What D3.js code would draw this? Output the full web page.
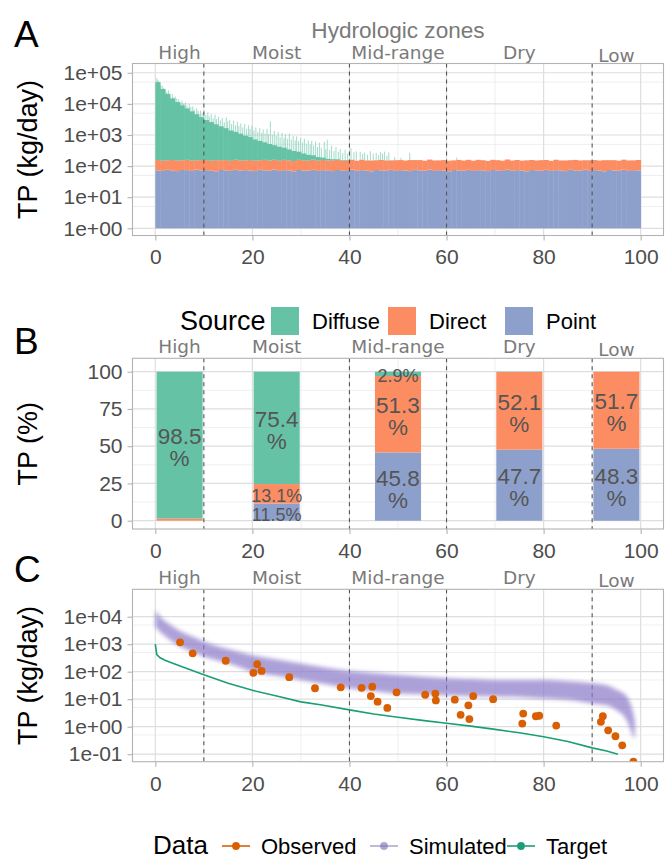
<!DOCTYPE html>
<html><head><meta charset="utf-8">
<script src="https://cdn.jsdelivr.net/npm/d3@7"></script>
<style>body{margin:0;background:#fff}</style>
</head><body><svg id="c" width="665" height="860"></svg>
<script>
// ---------- shared categories ----------
const zoneNames = ["High","Moist","Mid-range","Dry","Low"];
const zoneCenters = [5,25,50,75,95];
const zoneBreaks = [10,40,60,90];
const xTicks = [0,20,40,60,80,100];
const xMinor = [10,30,50,70,90];
const sources = ["Diffuse","Direct","Point"];
const sourceColors = ["#66c2a5","#fc8d62","#8da0cb"];

// ---------- Panel A: daily loads by flow percentile (bin = index) ----------
const pointLoad = [73,70,76,71,69,75,74,70,77,72,74,71,68,75,73,70,76,71,74,72,69,76,73,71,77,70,74,72,68,75,72,71,76,70,74,73,69,75,73,70,77,71,74,72,68,75,73,71,76,70,74,72,69,76,73,71,77,70,74,72,68,75,72,71,76,70,74,73,69,75,73,70,77,71,74,72,68,75,73,71,76,70,74,72,69,76,73,71,77,70,74,72,68,75,72,71,76,70,74,73];
const directLoad = [84,80,78,86,83,79,85,81,77,84,82,79,87,80,83,78,85,82,79,84,81,78,86,80,83,79,85,81,78,84,82,79,86,80,83,78,85,82,79,84,81,78,86,80,83,79,85,81,77,84,82,79,87,80,83,78,85,82,79,84,81,78,86,80,83,79,85,81,78,84,82,79,86,80,83,78,85,82,79,84,81,78,86,80,83,79,85,81,77,84,82,79,87,80,83,78,85,82,79,84];
const diffuseLoad = [49800,29800,20800,14800,11300,8800,7000,5600,4500,3600,2850,2450,2050,1750,1500,1250,1100,950,800,700,570,490,420,360,310,270,230,190,160,130,100,80,60,45,30,20,12,8,5,3,2];
const spikeX = [0.2,0.6,1.3,1.9,2.6,3.4,4.0,4.7,5.4,6.1,6.9,7.6,8.4,9.2,9.9,10.7,11.4,12.2,12.9,13.7,14.5,15.2,16.0,16.8,17.5,18.3,19.1,19.8,20.6,21.4,22.1,22.9,23.6,24.4,25.2,26.0,26.7,27.5,28.3,29.0,29.8,30.6,31.4,32.1,32.9,33.7,34.7,35.3,36.2,37.1,38.0,39.0,40.2,41.3,42.1,43.0,44.2,45.4,46.3,47.1,48.0,52.3,62.0,
  0.4,1.0,1.6,2.2,2.9,3.7,4.3,5.1,5.7,6.4,7.2,7.9,8.7,9.5,10.3,11.0,11.8,12.5,13.3,14.1,14.8,15.6,16.4,17.1,17.9,18.7,19.4,20.2,21.0,21.8,22.5,23.2,24.0,24.8,25.6,26.4,27.1,27.9,28.7,29.4,30.2,31.0,31.8,32.5,33.3,34.1,35.0,35.8,36.7,37.6,38.5,39.5,40.8,42.6,43.6,44.8,45.9,46.7,47.6,49.2,50.5];
const spikeLoad = [66000,52000,38000,30000,27000,20000,17000,14000,12500,11000,9500,8200,7000,6000,6300,5200,4600,4300,3700,3400,3500,2900,2700,2500,2200,2100,1900,1800,1600,1500,1350,1400,2600,1200,1100,1000,880,950,800,750,650,600,520,480,450,420,450,550,300,250,200,180,220,150,130,120,150,110,130,140,120,110,30,
  58000,40000,33000,24000,21000,16000,14500,11000,10000,8800,7800,6500,5800,4800,4200,3800,3300,3100,2800,2400,2600,2100,1900,1800,1600,1450,1400,1250,1100,1000,950,900,850,800,700,650,600,560,520,480,420,380,340,300,260,230,200,180,150,130,110,100,120,90,80,100,70,90,60,40,30];
const yTicksA = [1,10,100,1000,10000,100000];
const yMinorA = [5,50,500,5000,50000];

// ---------- Panel B: share of load by zone (%) ----------
const pctDiffuse = [98.5,75.4,2.9,0.2,0];
const pctDirect  = [1.5,13.1,51.3,52.1,51.7];
const pctPoint   = [0,11.5,45.8,47.7,48.3];
const yTicksB = [0,25,50,75,100];
const yMinorB = [12.5,37.5,62.5,87.5];

// ---------- Panel C: load duration curve ----------
const simX  = [0,1,2,4,6,8,10,13,16,20,25,30,34,40,45,50,55,60,65,70,75,80,85,90,93,95,96.5,97.5,98.3,98.8];
const simHi = [17000,10000,7000,4000,2500,1800,1250,830,600,400,280,200,150,105,90,76,66,58,54,50,50,50,45,38,32,22,16,10,4,1.6];
const simLo = [4400,2800,2000,1100,700,500,355,250,180,100,71,50,38,25,20,16,15,14,13,12.6,12,10.7,9.5,7,6,4,2.5,1.25,0.5,0.35];
const obsX = [5.1,7.7,14.5,20.2,21.0,21.9,27.6,32.9,38.2,42.5,44.4,44.7,45.8,47.8,49.7,55.6,57.7,57.8,61.7,62.9,64.5,64.7,65.5,69.6,75.6,75.8,78.4,79.1,82.6,91.8,92.2,93.3,94.8,96.2,98.5];
const obsY = [1170,465,250,91,187,107,63,25,27,26,13,28.5,8.1,4.8,17.8,14.5,16,9,9.6,2.7,6,1.9,13,10,1.3,3.0,2.4,2.5,1.1,1.5,2.4,0.74,0.45,0.21,0.054];
const targetX = [0,0.3,1,2,4,6.5,10,15,20,25,30,34,40,45,50,55,60,65,70,75,80,85,90,93,95.3];
const targetY = [1000,420,320,260,190,130,78,38,21,13,8,6.3,4.1,2.9,2.2,1.7,1.33,1.05,0.8,0.6,0.43,0.29,0.17,0.13,0.1];
const yTicksC = [0.1,1,10,100,1000,10000];
const yMinorC = [0.5,5,50,500,5000];
const legendC = ["Observed","Simulated","Target"];
const legendCColors = ["#d95f02","#7570b3","#1b9e77"];

// ---------- drawing ----------
const svg = d3.select("#c");
const SANS = "'Liberation Sans', Arial, sans-serif";
const DV = "'DejaVu Sans', sans-serif";
const L = 132.5, R = 663.5;
const x = d3.scaleLinear().domain([-4.7,104.7]).range([L,R]);
const defs = svg.append("defs");
defs.append("filter").attr("id","blur").attr("x","-10%").attr("y","-10%").attr("width","120%").attr("height","120%")
  .append("feGaussianBlur").attr("stdDeviation",2.2);

function logLab(d){const e=Math.round(Math.log10(d));return "1e"+(e<0?"-":"+")+String(Math.abs(e)).padStart(2,"0");}

function panel(id, top, bottom, y, yTicks, yMinor, fmt, yTitle){
  const g = svg.append("g");
  defs.append("clipPath").attr("id","clip"+id).append("rect")
    .attr("x",L).attr("y",top).attr("width",R-L).attr("height",bottom-top);
  g.selectAll(".ymin").data(yMinor).join("line")
    .attr("x1",L).attr("x2",R).attr("y1",d=>y(d)).attr("y2",d=>y(d))
    .attr("stroke","#ebebeb").attr("stroke-width",0.8);
  g.selectAll(".xmin").data(xMinor).join("line")
    .attr("y1",top).attr("y2",bottom).attr("x1",d=>x(d)).attr("x2",d=>x(d))
    .attr("stroke","#ebebeb").attr("stroke-width",0.8);
  g.selectAll(".ymaj").data(yTicks).join("line")
    .attr("x1",L).attr("x2",R).attr("y1",d=>y(d)).attr("y2",d=>y(d))
    .attr("stroke","#dedede").attr("stroke-width",1.2);
  g.selectAll(".xmaj").data(xTicks).join("line")
    .attr("y1",top).attr("y2",bottom).attr("x1",d=>x(d)).attr("x2",d=>x(d))
    .attr("stroke","#dedede").attr("stroke-width",1.2);
  const plot = svg.append("g").attr("clip-path","url(#clip"+id+")");
  const over = svg.append("g");
  const ay = svg.append("g").attr("transform",`translate(${L},0)`)
    .call(d3.axisLeft(y).tickValues(yTicks).tickFormat(fmt).tickSize(5).tickPadding(5));
  const ax = svg.append("g").attr("transform",`translate(0,${bottom})`)
    .call(d3.axisBottom(x).tickValues(xTicks).tickSize(5).tickPadding(9));
  [ay,ax].forEach(a=>{
    a.select(".domain").remove();
    a.selectAll(".tick line").attr("stroke","#b3b3b3").attr("stroke-width",1.1);
    a.selectAll(".tick text").attr("fill","#4d4d4d").style("font-family",SANS).style("font-size","21px");
  });
  svg.selectAll(".zl"+id).data(zoneNames).join("text")
    .attr("x",(d,i)=>x(zoneCenters[i])).attr("y",(d,i)=>top-5+(d==="Low"?3:0))
    .attr("text-anchor","middle").attr("fill","#7a7a7a")
    .style("font-family",DV).style("font-size","18.5px").text(d=>d);
  svg.append("text").attr("transform",`translate(37,${(top+bottom)/2}) rotate(-90)`)
    .attr("text-anchor","middle").style("font-family",SANS).style("font-size","27px").attr("fill","#000").text(yTitle);
  return {g, plot, over, top, bottom, border(){
    svg.append("rect").attr("x",L).attr("y",top).attr("width",R-L).attr("height",bottom-top)
      .attr("fill","none").attr("stroke","#b3b3b3").attr("stroke-width",1.1);
  }};
}
function zoneLines(p){
  p.over.selectAll("line.z").data(zoneBreaks).join("line").attr("class","z")
    .attr("x1",d=>x(d)).attr("x2",d=>x(d)).attr("y1",p.top).attr("y2",p.bottom)
    .attr("stroke","#555").attr("stroke-width",1.1).attr("stroke-dasharray","4,4");
}
function letter(s,yb){svg.append("text").attr("x",14).attr("y",yb).style("font-family",SANS).style("font-size","37px").attr("fill","#000").text(s);}

// ===== Panel A =====
const yA = d3.scaleLog().domain([Math.pow(10,-0.231),Math.pow(10,5.298)]).range([235.5,63.5]);
const pA = panel("A",63.5,235.5,yA,yTicksA,yMinorA,logLab,"TP (kg/day)");
const bw = x(1)-x(0);
pA.plot.selectAll("rect.pt").data(pointLoad).join("rect")
  .attr("x",(d,i)=>x(i)).attr("width",bw+0.4).attr("y",d=>yA(d)).attr("height",d=>yA(1)-yA(d)).attr("fill",sourceColors[2]);
pA.plot.selectAll("rect.dr").data(directLoad).join("rect")
  .attr("x",(d,i)=>x(i)).attr("width",bw+0.4).attr("y",(d,i)=>yA(d+pointLoad[i])).attr("height",(d,i)=>yA(pointLoad[i])-yA(d+pointLoad[i])).attr("fill",sourceColors[1]);
pA.plot.selectAll("rect.sp").data(spikeX).join("rect")
  .attr("x",d=>x(d)).attr("width",1.1)
  .attr("y",(d,i)=>{const k=Math.floor(d);return yA(pointLoad[k]+directLoad[k]+spikeLoad[i]);})
  .attr("height",(d,i)=>{const k=Math.floor(d);const b=pointLoad[k]+directLoad[k];return yA(b)-yA(b+spikeLoad[i]);})
  .attr("fill",sourceColors[0]).attr("opacity",0.55);
pA.plot.selectAll("rect.df").data(diffuseLoad).join("rect")
  .attr("x",(d,i)=>x(i)).attr("width",bw+0.4)
  .attr("y",(d,i)=>yA(pointLoad[i]+directLoad[i]+d))
  .attr("height",(d,i)=>yA(pointLoad[i]+directLoad[i])-yA(pointLoad[i]+directLoad[i]+d))
  .attr("fill",sourceColors[0]);
zoneLines(pA); pA.border();
svg.append("text").attr("x",x(50)).attr("y",37.5).attr("text-anchor","middle").attr("fill","#7a7a7a")
  .style("font-family",SANS).style("font-size","22.6px").text("Hydrologic zones");
letter("A",46.7);

// ===== Panel B =====
const yB = d3.scaleLinear().domain([-5.57,109]).range([529,358.3]);
const pB = panel("B",358.3,529,yB,yTicksB,yMinorB,d=>d,"TP (%)");
const stackRows = zoneNames.map((z,i)=>({zone:z,Point:pctPoint[i],Direct:pctDirect[i],Diffuse:pctDiffuse[i],c:zoneCenters[i]}));
const stack = d3.stack().keys(["Point","Direct","Diffuse"])(stackRows);
const colorOf = {Diffuse:sourceColors[0],Direct:sourceColors[1],Point:sourceColors[2]};
const bwB = x(9.5)-x(0);
stack.forEach(s=>{
  pB.plot.selectAll("rect.b"+s.key).data(s).join("rect")
    .attr("x",d=>x(d.data.c)-bwB/2).attr("width",bwB)
    .attr("y",d=>yB(d[1])).attr("height",d=>yB(d[0])-yB(d[1])).attr("fill",colorOf[s.key]);
});
zoneLines(pB);
stack.forEach(s=>{
  s.forEach(d=>{
    const v = d.data[s.key]; if(v<2.5) return;
    const cy = yB((d[0]+d[1])/2)+2, cx = x(d.data.c);
    const mk = ()=>svg.append("text").attr("x",cx).attr("text-anchor","middle").attr("fill","#555").style("font-family",SANS);
    if(v>=30){
      mk().style("font-size","22.5px").attr("y",cy-3).text(v.toFixed(1));
      mk().style("font-size","22.5px").attr("y",cy+19).text("%");
    } else {
      mk().style("font-size","18px").attr("y",cy+6.5).text(v.toFixed(1)+"%");
    }
  });
});
pB.border();
svg.append("text").attr("x",180).attr("y",330).style("font-family",SANS).style("font-size","27px").text("Source");
const legX=[271,388,505];
sources.forEach((s,i)=>{
  svg.append("rect").attr("x",legX[i]).attr("y",307).attr("width",28).attr("height",28).attr("fill",sourceColors[i]);
  svg.append("text").attr("x",legX[i]+41).attr("y",329).style("font-family",SANS).style("font-size","22px").text(s);
});
letter("B",354);

// ===== Panel C =====
const yC = d3.scaleLog().domain([Math.pow(10,-1.273),Math.pow(10,4.996)]).range([761.7,589.3]);
const pC = panel("C",589.3,761.7,yC,yTicksC,yMinorC,logLab,"TP (kg/day)");
pC.plot.selectAll("line.z").data(zoneBreaks).join("line")
  .attr("x1",d=>x(d)).attr("x2",d=>x(d)).attr("y1",pC.top).attr("y2",pC.bottom)
  .attr("stroke","#555").attr("stroke-width",1.1).attr("stroke-dasharray","4,4");
const band = d3.area().x((d,i)=>x(simX[i])).y0((d,i)=>yC(simLo[i])).y1((d,i)=>yC(simHi[i])).curve(d3.curveMonotoneX);
pC.plot.append("path").datum(simX).attr("d",band).attr("fill","#8a78c8").attr("opacity",0.7).attr("filter","url(#blur)");
const tline = d3.line().x((d,i)=>x(targetX[i])).y((d,i)=>yC(targetY[i]));
pC.plot.append("path").datum(targetX).attr("d",tline).attr("fill","none").attr("stroke","#1b9e77").attr("stroke-width",1.6);
pC.plot.selectAll("circle.o").data(obsX).join("circle")
  .attr("cx",d=>x(d)).attr("cy",(d,i)=>yC(obsY[i])).attr("r",3.9).attr("fill","#d95f02");
pC.border();
letter("C",582);
svg.append("text").attr("x",153).attr("y",854).style("font-family",SANS).style("font-size","26px").text("Data");
const legCX=[236,384,521];
legendC.forEach((s,i)=>{
  const op = i===1?0.6:1;
  svg.append("line").attr("x1",legCX[i]-14).attr("x2",legCX[i]+14).attr("y1",846).attr("y2",846)
    .attr("stroke",legendCColors[i]).attr("stroke-width",1.6).attr("opacity",op);
  svg.append("circle").attr("cx",legCX[i]).attr("cy",846).attr("r",3.9).attr("fill",legendCColors[i]).attr("opacity",op);
  svg.append("text").attr("x",legCX[i]+25).attr("y",854).style("font-family",SANS).style("font-size","22px").text(s);
});
</script></body></html>
